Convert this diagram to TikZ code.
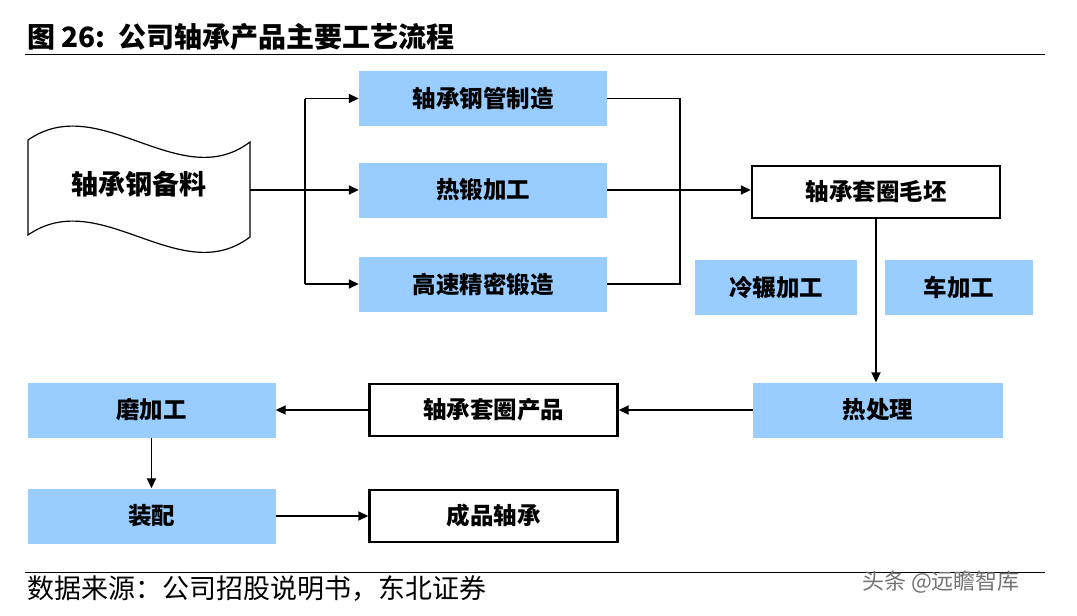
\documentclass[tikz,border=0pt]{standalone}
\usepackage{fontspec}
\newfontfamily\cjk{Noto Sans CJK SC}
\usetikzlibrary{arrows.meta}
\definecolor{boxblue}{RGB}{153,204,255}
\tikzset{
  bluebox/.style={fill=boxblue,minimum width=248pt,minimum height=55pt,inner sep=0pt,font=\cjk\bfseries\fontsize{23.5}{23.5}\selectfont},
  whitebox/.style={draw=black,line width=2.4pt,fill=white,minimum width=248pt,minimum height=52pt,inner sep=0pt,font=\cjk\bfseries\fontsize{23.5}{23.5}\selectfont},
  flow/.style={line width=1.8pt,-{Triangle[length=10pt,width=9pt]}},
  link/.style={line width=1.8pt}
}
\begin{document}
\begin{tikzpicture}[x=1pt,y=-1pt]
	\useasboundingbox (0,0) rectangle (1077,616);
	%title and rules
	\node[anchor=west,font=\cjk\bfseries\fontsize{28}{28}\selectfont,inner sep=0pt] (title) at (27,37) {图 26:\, 公司轴承产品主要工艺流程};
	\draw[line width=1pt] (25,54) -- (1045,54);
	\draw[line width=1pt] (25,572) -- (1045,572);
	\node[anchor=west,font=\cjk\fontsize{27}{27}\selectfont,inner sep=0pt] (source) at (27,589) {数据来源：公司招股说明书，东北证券};
	\node[anchor=west,font=\cjk\fontsize{22}{22}\selectfont,text=black!55,inner sep=0pt] (stamp) at (862,582) {头条 @远瞻智库};

	%raw material (wavy sheet)
	\draw[line width=1.2pt,fill=white] (28,140) .. controls (100,90) and (180,195) .. (250,142) -- (250,237) .. controls (180,290) and (100,185) .. (28,235) -- cycle;
	\node[font=\cjk\bfseries\fontsize{27}{27}\selectfont] (stock) at (139,184) {轴承钢备料};
	\coordinate (stockR) at (250,190);

	%forming steps
	\node[bluebox] (pipe) at (483,98.5) {轴承钢管制造};
	\node[bluebox] (forge) at (483,190) {热锻加工};
	\node[bluebox] (fast) at (483,284) {高速精密锻造};
	\node[whitebox] (blank) at (876,192) {轴承套圈毛坯};
	\node[bluebox,minimum width=162pt] (roll) at (776,287.5) {冷辗加工};
	\node[bluebox,minimum width=148pt] (turn) at (959,287.5) {车加工};
	\node[bluebox,minimum width=250pt] (heat) at (878,410) {热处理};
	\node[whitebox] (ring) at (493.5,410) {轴承套圈产品};
	\node[bluebox] (grind) at (151.5,410) {磨加工};
	\node[bluebox] (assy) at (151.5,516) {装配};
	\node[whitebox] (final) at (493.5,516) {成品轴承};

	%split and join lines
	\coordinate (splitL) at (305,190);
	\coordinate (joinR) at (680,190);
	\draw[flow] (stockR) -- (forge.west);
	\draw[link] (splitL |- pipe.west) -- (splitL |- fast.west);
	\draw[flow] (splitL |- pipe.west) -- (pipe.west);
	\draw[flow] (splitL |- fast.west) -- (fast.west);
	\draw[link] (pipe.east) -| (joinR |- fast.east) -- (fast.east);
	\draw[flow] (forge.east) -- (forge.east -| blank.west);

	%main chain
	\draw[flow] (blank.south) -- (blank.south |- heat.north);
	\draw[flow] (heat.west) -- (ring.east);
	\draw[flow] (ring.west) -- (grind.east);
	\draw[flow] (grind.south) -- (assy.north);
	\draw[flow] (assy.east) -- (final.west);
\end{tikzpicture}
\end{document}
